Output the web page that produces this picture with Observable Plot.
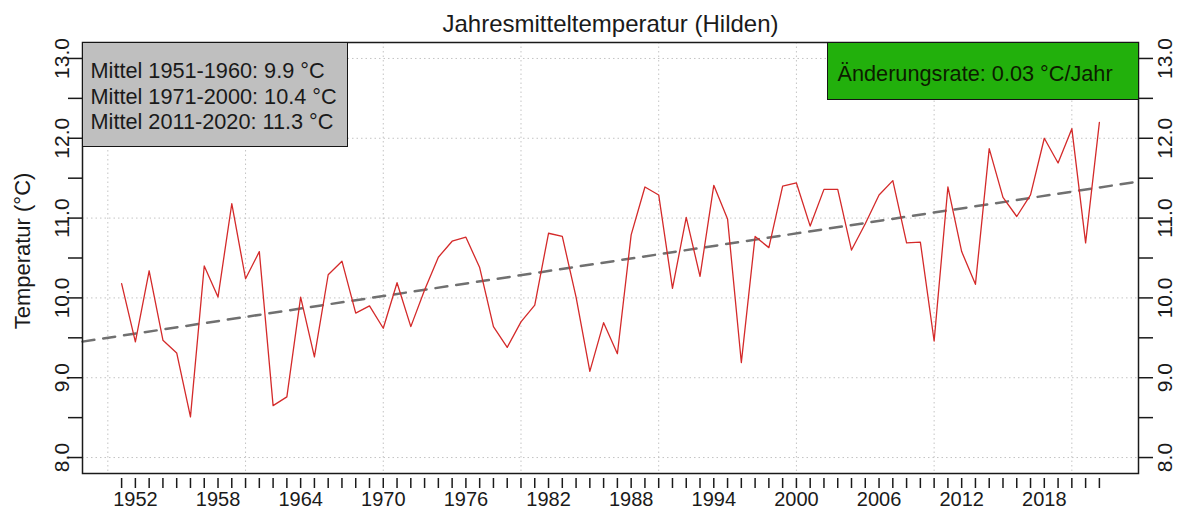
<!DOCTYPE html>
<html><head><meta charset="utf-8">
<script src="https://cdn.jsdelivr.net/npm/d3@7"></script>
<script src="https://cdn.jsdelivr.net/npm/@observablehq/plot@0.6"></script>
<style>
body{margin:0;background:#fff;font-family:"Liberation Sans",Arial,sans-serif;}
#wrap{position:relative;width:1180px;height:510px;}
.box{position:absolute;box-sizing:border-box;border:1.5px solid #151515;font-size:21.7px;color:#1a1a1a;white-space:nowrap;}
#means{left:82px;top:42px;width:266px;height:105px;background:#bfbfbf;padding:15px 0 0 7.5px;line-height:25.5px;}
#rate{left:827px;top:42px;width:311.5px;height:57.5px;background:#22b00c;padding:19.6px 0 0 9.5px;line-height:1;color:#0c1c00;}
</style></head><body>
<div id="wrap"></div>
<script>
const title = "Jahresmitteltemperatur (Hilden)";
const yTitle = "Temperatur (°C)";
const firstYear = 1951;
const temps = [
  10.18, 9.45, 10.34, 9.47, 9.31, 8.51, 10.40, 10.01, 11.18, 10.24,
  10.58, 8.65, 8.76, 10.01, 9.26, 10.29, 10.46, 9.81, 9.90, 9.62,
  10.19, 9.64, 10.10, 10.51, 10.71, 10.76, 10.38, 9.64, 9.38, 9.70,
  9.91, 10.81, 10.77, 10.01, 9.08, 9.69, 9.30, 10.79, 11.39, 11.29,
  10.12, 11.01, 10.27, 11.41, 10.99, 9.19, 10.77, 10.63, 11.40, 11.44,
  10.90, 11.36, 11.36, 10.60, 10.93, 11.29, 11.47, 10.69, 10.70, 9.46,
  11.39, 10.58, 10.17, 11.87, 11.26, 11.02, 11.29, 12.00, 11.69, 12.12,
  10.69, 12.20
];
const labelYears = [1952, 1958, 1964, 1970, 1976, 1982, 1988, 1994, 2000, 2006, 2012, 2018];
const yLimits = [8, 13];
const yTickStep = 0.5;
const meanLines = ["Mittel 1951-1960: 9.9 °C", "Mittel 1971-2000: 10.4 °C", "Mittel 2011-2020: 11.3 °C"];
const rateText = "Änderungsrate: 0.03 °C/Jahr";

const data = temps.map((t, i) => ({year: firstYear + i, temp: t}));
const years = data.map(d => d.year);
const [x0, x1] = d3.extent(years);
const padX = 0.04 * (x1 - x0);
const xDomain = [x0 - padX, x1 + padX];
const padY = 0.04 * (yLimits[1] - yLimits[0]);
const yDomain = [yLimits[0] - padY, yLimits[1] + padY];
const yTicks = d3.range(yLimits[0], yLimits[1] + 1e-9, yTickStep);
const yLabels = yTicks.filter(v => Number.isInteger(v));
const gridXTicks = d3.ticks(xDomain[0], xDomain[1], 8);
const gridYTicks = d3.ticks(yDomain[0], yDomain[1], 5);

const mx = d3.mean(years), my = d3.mean(temps);
const slope = d3.sum(data, d => (d.year - mx) * (d.temp - my)) / d3.sum(data, d => (d.year - mx) ** 2);
const trend = xDomain.map(x => ({year: x, temp: my + slope * (x - mx)}));

const ink = "#1a1a1a";
const chart = Plot.plot({
  width: 1180, height: 510,
  marginLeft: 82, marginRight: 42, marginTop: 42, marginBottom: 37,
  style: {fontFamily: '"Liberation Sans", Arial, sans-serif', background: "#fff", color: ink, overflow: "visible"},
  x: {domain: xDomain, label: null},
  y: {domain: yDomain, label: null},
  marks: [
    Plot.gridX(gridXTicks, {stroke: "#c4c4c4", strokeOpacity: 1, strokeDasharray: "1.5,3"}),
    Plot.gridY(gridYTicks, {stroke: "#c4c4c4", strokeOpacity: 1, strokeDasharray: "1.5,3"}),
    Plot.line(trend, {x: "year", y: "temp", stroke: "#707070", strokeWidth: 2.5, strokeDasharray: "12,9"}),
    Plot.line(data, {x: "year", y: "temp", stroke: "#d42a2a", strokeWidth: 1.3}),
    Plot.frame({stroke: ink, strokeWidth: 1.5}),
    Plot.axisX(years, {label: null, tickSize: 10, dy: 5, tickPadding: 3, stroke: ink, strokeWidth: 1.5, fontSize: 20,
      tickFormat: y => labelYears.includes(y) ? String(y) : ""}),
    Plot.axisY(yTicks, {label: null, anchor: "left", tickSize: 14, stroke: ink, strokeWidth: 1.5, tickFormat: () => ""}),
    Plot.axisY(yTicks, {label: null, anchor: "right", tickSize: 14, stroke: ink, strokeWidth: 1.5, tickFormat: () => ""}),
    Plot.text(yLabels, {y: d => d, frameAnchor: "left", textAnchor: "middle", dx: -20, rotate: -90, text: d => d.toFixed(1), fontSize: 21, fill: ink}),
    Plot.text(yLabels, {y: d => d, frameAnchor: "right", textAnchor: "middle", dx: 27, rotate: -90, text: d => d.toFixed(1), fontSize: 21, fill: ink}),
    Plot.text([yTitle], {frameAnchor: "left", textAnchor: "middle", dx: -60, dy: -7, rotate: -90, text: d => d, fontSize: 22, fill: ink}),
    Plot.text([title], {frameAnchor: "top", lineAnchor: "bottom", dy: -11, text: d => d, fontSize: 24, fill: ink})
  ]
});
const wrap = document.getElementById("wrap");
wrap.appendChild(chart);
const means = document.createElement("div");
means.className = "box"; means.id = "means";
means.innerHTML = meanLines.map(s => `<div>${s}</div>`).join("");
wrap.appendChild(means);
const rate = document.createElement("div");
rate.className = "box"; rate.id = "rate";
rate.textContent = rateText;
wrap.appendChild(rate);
</script>
</body></html>
